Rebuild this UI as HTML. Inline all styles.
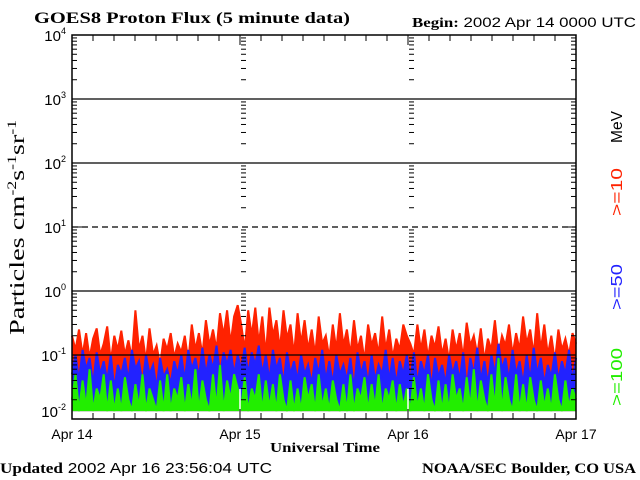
<!DOCTYPE html>
<html><head><meta charset="utf-8"><style>
html,body{margin:0;padding:0;background:#fff;}
svg{display:block;}
.serif{font-family:"Liberation Serif",serif;font-weight:bold;}
.sans{font-family:"Liberation Sans",sans-serif;}
</style></head><body>
<svg id="chart" width="640" height="480" viewBox="0 0 640 480">
<text x="34" y="23" class="serif" font-size="16" textLength="316" lengthAdjust="spacingAndGlyphs">GOES8 Proton Flux (5 minute data)</text>
<text x="412" y="27" font-size="14" textLength="224" lengthAdjust="spacingAndGlyphs"><tspan class="serif">Begin:</tspan><tspan class="sans"> 2002 Apr 14 0000 UTC</tspan></text>
<text x="0" y="473" font-size="15" textLength="272" lengthAdjust="spacingAndGlyphs"><tspan class="serif">Updated</tspan><tspan class="sans"> 2002 Apr 16 23:56:04 UTC</tspan></text>
<text x="422" y="473" class="serif" font-size="15" textLength="214" lengthAdjust="spacingAndGlyphs">NOAA/SEC Boulder, CO USA</text>
<text x="270" y="452" class="serif" font-size="14" textLength="110" lengthAdjust="spacingAndGlyphs">Universal Time</text>
<text transform="translate(24,335) rotate(-90)" font-family="Liberation Serif, serif" font-size="21" textLength="215" lengthAdjust="spacingAndGlyphs">Particles cm<tspan dy="-8" font-size="13">-2</tspan><tspan dy="8">s</tspan><tspan dy="-8" font-size="13">-1</tspan><tspan dy="8">sr</tspan><tspan dy="-8" font-size="13">-1</tspan></text>
<text transform="translate(622,143) rotate(-90)" class="sans" font-size="16" textLength="32" lengthAdjust="spacingAndGlyphs" fill="#000">MeV</text>
<text transform="translate(622,216) rotate(-90)" class="sans" font-size="16" textLength="48" lengthAdjust="spacingAndGlyphs" fill="#ff2200">&gt;=10</text>
<text transform="translate(622,310) rotate(-90)" class="sans" font-size="16" textLength="46" lengthAdjust="spacingAndGlyphs" fill="#2222ff">&gt;=50</text>
<text transform="translate(622,406) rotate(-90)" class="sans" font-size="16" textLength="58" lengthAdjust="spacingAndGlyphs" fill="#22ee00">&gt;=100</text>
<g id="series"></g>
<g id="grid"></g>
<g id="axes"></g>
</svg>
<script>
const dayLabels = ["Apr 14","Apr 15","Apr 16","Apr 17"];
const yExponents = [-2,-1,0,1,2,3,4];
const redVals = [0.2,0.12,0.25,0.1,0.22,0.09,0.18,0.26,0.1,0.15,0.28,0.08,0.2,0.12,0.24,0.1,0.17,0.09,0.5,0.12,0.2,0.08,0.26,0.1,0.14,0.07,0.18,0.12,0.22,0.09,0.15,0.11,0.2,0.08,0.3,0.12,0.22,0.1,0.35,0.14,0.25,0.12,0.45,0.2,0.5,0.15,0.4,0.6,
0.3,0.12,0.5,0.2,0.55,0.15,0.4,0.1,0.55,0.2,0.35,0.12,0.5,0.18,0.3,0.1,0.45,0.15,0.35,0.12,0.25,0.1,0.4,0.15,0.2,0.09,0.3,0.12,0.45,0.14,0.25,0.1,0.35,0.12,0.2,0.08,0.3,0.14,0.22,0.1,0.4,0.12,0.25,0.09,0.18,0.12,0.3,0.2,
0.15,0.1,0.3,0.12,0.25,0.09,0.2,0.13,0.28,0.1,0.18,0.08,0.25,0.12,0.22,0.09,0.32,0.14,0.2,0.1,0.26,0.08,0.18,0.12,0.35,0.1,0.2,0.14,0.3,0.1,0.22,0.12,0.4,0.15,0.25,0.1,0.45,0.12,0.3,0.1,0.2,0.08,0.25,0.12,0.18,0.1,0.22,0.15];
const blueVals = [0.05,0.1,0.04,0.12,0.06,0.09,0.035,0.11,0.05,0.08,0.04,0.1,0.03,0.07,0.05,0.09,0.04,0.12,0.06,0.08,0.035,0.1,0.05,0.07,0.03,0.09,0.045,0.06,0.035,0.08,0.05,0.1,0.04,0.12,0.06,0.09,0.045,0.13,0.05,0.1,0.06,0.14,0.05,0.11,0.07,0.12,0.05,0.1,
0.06,0.13,0.05,0.11,0.07,0.14,0.05,0.1,0.04,0.12,0.06,0.09,0.035,0.11,0.05,0.08,0.04,0.1,0.05,0.07,0.035,0.09,0.05,0.12,0.04,0.08,0.035,0.1,0.05,0.07,0.04,0.09,0.03,0.11,0.05,0.08,0.035,0.1,0.04,0.07,0.05,0.12,0.04,0.09,0.035,0.08,0.05,0.1,
0.04,0.11,0.035,0.08,0.05,0.1,0.03,0.09,0.045,0.07,0.035,0.1,0.05,0.08,0.04,0.11,0.03,0.09,0.05,0.13,0.04,0.08,0.035,0.1,0.05,0.15,0.06,0.09,0.04,0.12,0.05,0.08,0.035,0.1,0.04,0.13,0.05,0.09,0.035,0.07,0.045,0.11,0.04,0.08,0.05,0.12,0.04,0.09];
const greenVals = [0.02,0.05,0.011,0.04,0.015,0.06,0.012,0.03,0.02,0.05,0.011,0.04,0.013,0.03,0.011,0.045,0.02,0.011,0.035,0.015,0.05,0.011,0.03,0.02,0.011,0.04,0.013,0.05,0.011,0.03,0.02,0.045,0.011,0.035,0.015,0.06,0.012,0.04,0.02,0.011,0.05,0.015,0.07,0.012,0.04,0.02,0.05,0.03,
0.015,0.045,0.011,0.03,0.02,0.05,0.011,0.04,0.015,0.035,0.011,0.05,0.02,0.011,0.04,0.013,0.03,0.011,0.045,0.02,0.035,0.011,0.05,0.015,0.03,0.011,0.04,0.02,0.011,0.035,0.013,0.05,0.011,0.03,0.02,0.045,0.011,0.035,0.015,0.05,0.011,0.03,0.02,0.04,0.011,0.035,0.015,0.03,
0.011,0.045,0.015,0.03,0.011,0.05,0.02,0.011,0.04,0.013,0.035,0.011,0.05,0.02,0.03,0.011,0.045,0.015,0.06,0.011,0.04,0.02,0.011,0.05,0.015,0.09,0.012,0.045,0.02,0.011,0.05,0.013,0.035,0.011,0.045,0.02,0.011,0.04,0.015,0.03,0.011,0.05,0.02,0.011,0.04,0.015,0.03,0.02];

const NS="http://www.w3.org/2000/svg";
const X0=72,X1=576,Y0=35,Y1=419;
const yMin=-2,yMax=4;
const FLOOR=0.0133;
function xScale(f){return X0+(X1-X0)*f;}
function yRaw(v){return Y1-(Math.log10(v)-yMin)/(yMax-yMin)*(Y1-Y0);}
function yScale(v){return yRaw(Math.max(v,FLOOR));}
function mk(tag,attrs,parent){const e=document.createElementNS(NS,tag);for(const k in attrs)e.setAttribute(k,attrs[k]);parent.appendChild(e);return e;}
const grid=document.getElementById('grid'),axes=document.getElementById('axes'),ser=document.getElementById('series');

yExponents.forEach(ex=>{
  if(ex===yMin||ex===yMax)return;
  const y=yRaw(Math.pow(10,ex));
  const l=mk('line',{x1:X0,x2:X1,y1:y,y2:y,stroke:'#000','stroke-width':1.3,'stroke-dasharray':ex===1?'6,4':'none'},grid);
  
  
});
const nDays=dayLabels.length-1;
for(let d=1;d<nDays;d++){
  const x=xScale(d/nDays);
  const l=mk('line',{x1:x,x2:x,y1:Y1-30,y2:Y1,stroke:'#fff','stroke-width':1.5},grid);
  
  
  for(let ex=yMin;ex<yMax;ex++){for(let m=2;m<=9;m++){const y=yRaw(m*Math.pow(10,ex));
    const t=mk('line',{x1:x+1,x2:x+6,y1:y,y2:y,stroke:'#000','stroke-width':1},grid);
    
    }}
}
function drawSeries(vals,color,name){
  const n=vals.length;
  const pts=vals.map((v,i)=>xScale(i/(n-1)).toFixed(1)+','+yScale(v).toFixed(1));
  const base=yScale(FLOOR);
  const area=mk('polygon',{points:X0+','+base+' '+pts.join(' ')+' '+X1+','+base,fill:color,stroke:'none'},ser);
  
  
  const p=mk('polyline',{points:pts.join(' '),fill:'none',stroke:color,'stroke-width':2},ser);
  
  
}
drawSeries(redVals,'#ff2200','series-10mev');
drawSeries(blueVals,'#2222ff','series-50mev');
drawSeries(greenVals,'#22ee00','series-100mev');

const fr=mk('rect',{x:X0,y:Y0,width:X1-X0,height:Y1-Y0,fill:'none',stroke:'#000','stroke-width':1.5},axes);


yExponents.forEach(ex=>{
  const y=yRaw(Math.pow(10,ex));
  [X0,X1].forEach(xx=>{const dir=xx===X0?1:-1;
    const t=mk('line',{x1:xx,x2:xx+dir*10,y1:y,y2:y,stroke:'#000','stroke-width':1},axes);
    
    
    if(ex<yMax)for(let m=2;m<=9;m++){const ym=yRaw(m*Math.pow(10,ex));
      const mt=mk('line',{x1:xx,x2:xx+dir*5,y1:ym,y2:ym,stroke:'#000','stroke-width':1},axes);
      
      }
  });
  const tx=mk('text',{x:X0-6,y:(ex===yMin?y-2:y+6),'text-anchor':'end','font-size':15,'font-family':'Liberation Sans, sans-serif'},axes);
  
  
  tx.innerHTML='10<tspan dy="-7" font-size="9">'+ex+'</tspan>';
});
for(let h=0;h<=nDays*24;h+=3){
  const x=xScale(h/(nDays*24));const len=(h%24===0)?10:6;
  const a=mk('line',{x1:x,x2:x,y1:Y1,y2:Y1-len,stroke:'#000','stroke-width':1},axes);
  
  
  const b=mk('line',{x1:x,x2:x,y1:Y0,y2:Y0+len,stroke:'#000','stroke-width':1},axes);
  
  
}
dayLabels.forEach((lab,i)=>{
  const t=mk('text',{x:xScale(i/nDays),y:439,'text-anchor':'middle','font-size':14,'font-family':'Liberation Sans, sans-serif'},axes);
  
  
  t.textContent=lab;
});
</script>
</body></html>
